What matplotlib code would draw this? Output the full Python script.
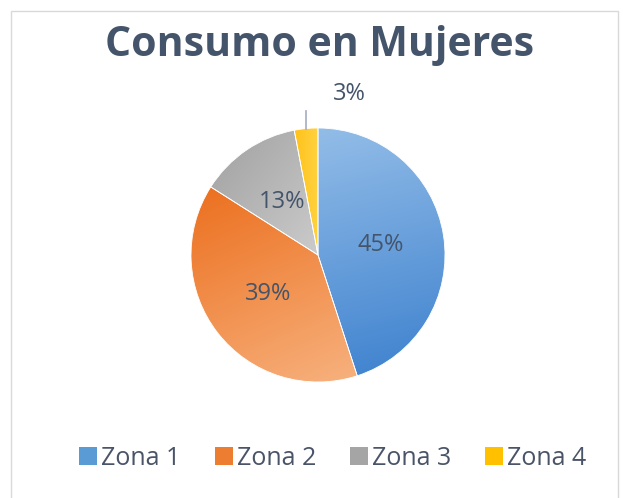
import numpy as np
import matplotlib
matplotlib.use("Agg")
import matplotlib.pyplot as plt
from matplotlib.colors import to_rgb
from matplotlib.patches import Patch, Rectangle

# ---- data ----
categories = ["Zona 1", "Zona 2", "Zona 3", "Zona 4"]
values = [45, 39, 13, 3]
title = "Consumo en Mujeres"

# ---- styles ----
base_colors = ["#5b9bd5", "#ed7d31", "#a5a5a5", "#ffc000"]
grad_colors = [("#93bde8", "#4385d0"),   # light -> dark
               ("#ec7121", "#f7b07c"),
               ("#a9a9a9", "#cbcbcb"),
               ("#ffc21a", "#ffd23f")]
grad_dirs = [(0.25, -1.0), (0.45, -1.0), (1.0, -0.8), (1.0, 0.0)]
text_color = "#44546a"
font = "Open Sans"

W, H = 623, 498
fig = plt.figure(figsize=(W / 100, H / 100), dpi=100)
fig.patch.set_facecolor("white")

# frame
fig.add_artist(Rectangle((11 / W, -0.05), (618 - 11) / W, 1.05 - 11 / H,
                         transform=fig.transFigure, fill=False,
                         edgecolor="#d9d9d9", linewidth=1.0))

cx, cy, r = 318, 255, 127
ax = fig.add_axes([(cx - r) / W, 1 - (cy + r) / H, 2 * r / W, 2 * r / H])

wedges, texts, autotexts = ax.pie(
    values, startangle=90, counterclock=False, colors=base_colors,
    autopct=lambda p: f"{p:.0f}%", pctdistance=0.5,
    wedgeprops=dict(edgecolor="white", linewidth=0.6),
    textprops=dict(color=text_color, fontsize=17, family=font))
ax.set_aspect("equal")
ax.axis("off")

# gradient fills clipped to wedges
n = 300
xs = np.linspace(-1, 1, n)
X, Y = np.meshgrid(xs, xs[::-1])
for w, (c1, c2), (dx, dy) in zip(wedges, grad_colors, grad_dirs):
    d = np.array([dx, dy]) / np.hypot(dx, dy)
    verts = w.get_patch_transform().transform(w.get_path().vertices)
    proj = verts @ d
    T = (X * d[0] + Y * d[1] - proj.min()) / (proj.max() - proj.min())
    T = np.clip(T, 0, 1)
    a, b = np.array(to_rgb(c1)), np.array(to_rgb(c2))
    img = a[None, None, :] * (1 - T[..., None]) + b[None, None, :] * T[..., None]
    im = ax.imshow(img, extent=(-1, 1, -1, 1), zorder=w.get_zorder() - 0.1,
                   interpolation="bilinear")
    im.set_clip_path(w)
    w.set_facecolor("none")

ax.set_xlim(-1, 1)
ax.set_ylim(-1, 1)

# small slice label outside with leader line
w4 = wedges[3]
mid = np.deg2rad((w4.theta1 + w4.theta2) / 2)
ux, uy = np.cos(mid), np.sin(mid)
ax.plot([ux, ux], [uy, uy + 0.14], color="#a3abc2", lw=1.2, clip_on=False)
autotexts[3].set_position((0.25, 1.27))

fig.text(320 / W, 1 - 45 / H, title, ha="center", va="center",
         fontsize=29.5, fontweight="bold", color=text_color, family=font)

handles = [Patch(facecolor=c, edgecolor="none") for c in base_colors]
fig.legend(handles, categories, loc="center", bbox_to_anchor=(333 / W, 1 - 458 / H),
           ncol=4, frameon=False, handlelength=0.72, handleheight=0.72,
           handletextpad=0.16, columnspacing=1.36,
           prop=dict(family=font, size=18), labelcolor="#4a5468")

fig.savefig("out.png", dpi=100, facecolor="white")
